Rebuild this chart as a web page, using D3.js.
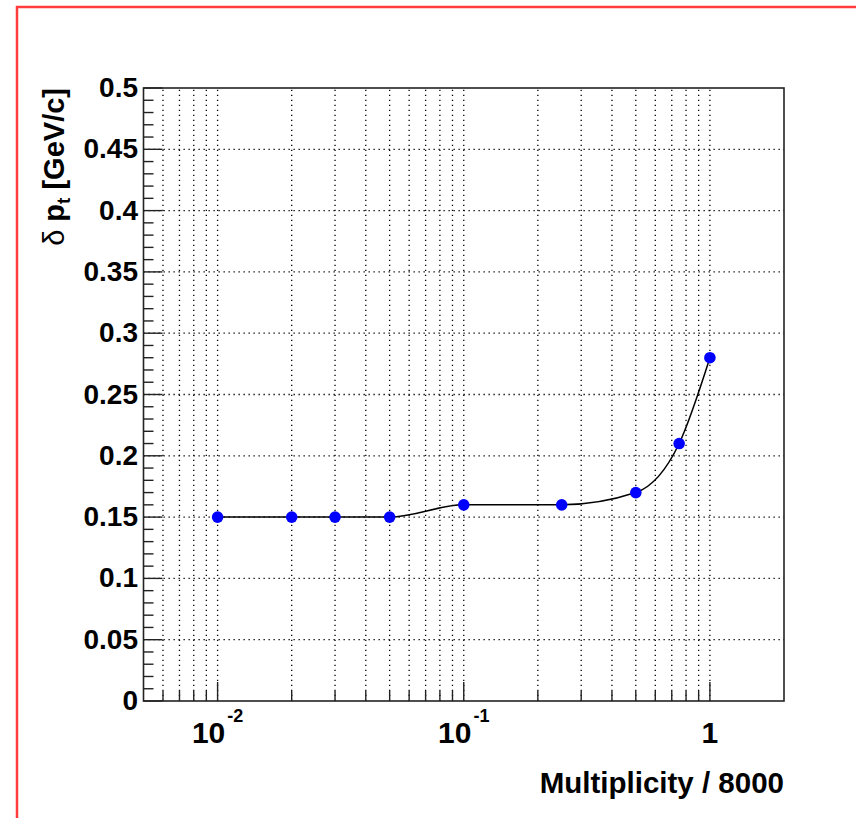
<!DOCTYPE html>
<html>
<head>
<meta charset="utf-8">
<script src="https://cdn.jsdelivr.net/npm/d3@7"></script>
<style>
  html, body { margin: 0; padding: 0; background: #fff; }
  svg { display: block; font-family: "Liberation Sans", Arial, Helvetica, sans-serif; }
</style>
</head>
<body>
<div id="chart"></div>
<script>
// Points
const multiplicity = [0.01, 0.02, 0.03, 0.05, 0.1, 0.25, 0.5, 0.75, 1];
const deltaPt = [0.15, 0.15, 0.15, 0.15, 0.16, 0.16, 0.17, 0.21, 0.28];

// Axis ticks
const xMajorTicks = [0.01, 0.1, 1];
const xMajorLabels = [["10", "-2"], ["10", "-1"], ["1", ""]];
const xMinorTicks = [0.006, 0.007, 0.008, 0.009,
  0.02, 0.03, 0.04, 0.05, 0.06, 0.07, 0.08, 0.09,
  0.2, 0.3, 0.4, 0.5, 0.6, 0.7, 0.8, 0.9];
const yMajorTicks = [0, 0.05, 0.1, 0.15, 0.2, 0.25, 0.3, 0.35, 0.4, 0.45, 0.5];
const yMajorLabels = ["0", "0.05", "0.1", "0.15", "0.2", "0.25", "0.3", "0.35", "0.4", "0.45", "0.5"];
const yMinorTicks = d3.range(0, 51).map((i) => i / 100);

const width = 856;
const height = 818;
const frame = { left: 143.5, right: 784, top: 88, bottom: 701 };

const svg = d3.select("#chart")
  .append("svg")
  .attr("width", width)
  .attr("height", height);

// pad border (only top/left edges visible in the picture)
svg.append("rect")
  .attr("x", 17)
  .attr("y", 7)
  .attr("width", width + 20)
  .attr("height", height + 20)
  .attr("fill", "none")
  .attr("stroke", "#ff3c3c")
  .attr("stroke-width", 2.5);

const x = d3.scaleLog()
  .domain([0.005, 2])
  .range([frame.left, frame.right]);

const y = d3.scaleLinear()
  .domain([0, 0.5])
  .range([frame.bottom, frame.top]);

// grid
const grid = svg.append("g")
  .attr("stroke", "#000")
  .attr("stroke-width", 1.3)
  .attr("stroke-dasharray", "1.3,3.7");

grid.selectAll("line.vx")
  .data(xMajorTicks.concat(xMinorTicks))
  .join("line")
  .attr("x1", (d) => x(d))
  .attr("x2", (d) => x(d))
  .attr("y1", frame.bottom)
  .attr("y2", frame.top);

grid.selectAll("line.hy")
  .data(yMajorTicks.filter((d) => d > 0 && d < 0.5))
  .join("line")
  .attr("class", "hy")
  .attr("x1", frame.left)
  .attr("x2", frame.right)
  .attr("y1", (d) => y(d))
  .attr("y2", (d) => y(d));

// ticks (drawn inside the frame)
const ticks = svg.append("g")
  .attr("stroke", "#222")
  .attr("stroke-width", 1.4);

ticks.selectAll("line.xt")
  .data(xMajorTicks.map((d) => [d, 19]).concat(xMinorTicks.map((d) => [d, 10])))
  .join("line")
  .attr("class", "xt")
  .attr("x1", (d) => x(d[0]))
  .attr("x2", (d) => x(d[0]))
  .attr("y1", frame.bottom)
  .attr("y2", (d) => frame.bottom - d[1]);

ticks.selectAll("line.yt")
  .data(yMinorTicks.map((d, i) => [d, i % 5 === 0 ? 19 : 10]))
  .join("line")
  .attr("class", "yt")
  .attr("x1", frame.left)
  .attr("x2", (d) => frame.left + d[1])
  .attr("y1", (d) => y(d[0]))
  .attr("y2", (d) => y(d[0]));

// frame
svg.append("rect")
  .attr("x", frame.left)
  .attr("y", frame.top)
  .attr("width", frame.right - frame.left)
  .attr("height", frame.bottom - frame.top)
  .attr("fill", "none")
  .attr("stroke", "#222")
  .attr("stroke-width", 1.6);

// y tick labels
svg.append("g")
  .selectAll("text")
  .data(yMajorTicks)
  .join("text")
  .attr("x", 138)
  .attr("y", (d) => y(d) + 9)
  .attr("text-anchor", "end")
  .attr("font-size", 28)
  .attr("font-weight", "bold")
  .text((d, i) => yMajorLabels[i]);

// x tick labels with exponent
const xLab = svg.append("g")
  .selectAll("text")
  .data(xMajorTicks)
  .join("text")
  .attr("x", (d) => x(d))
  .attr("y", 743)
  .attr("text-anchor", "middle")
  .attr("font-size", 30)
  .attr("font-weight", "bold");

xLab.append("tspan").text((d, i) => xMajorLabels[i][0]);
xLab.append("tspan")
  .attr("dx", 2)
  .attr("dy", -21)
  .attr("font-size", 18)
  .text((d, i) => xMajorLabels[i][1]);

// axis titles
svg.append("text")
  .attr("x", frame.right)
  .attr("y", 793)
  .attr("text-anchor", "end")
  .attr("font-size", 29.5)
  .attr("font-weight", "bold")
  .text("Multiplicity / 8000");

const yTitle = svg.append("text")
  .attr("transform", `translate(64,${frame.top}) rotate(-90)`)
  .attr("text-anchor", "end")
  .attr("font-size", 29)
  .attr("font-weight", "bold");

yTitle.append("tspan").attr("font-weight", "normal").text("δ ");
yTitle.append("tspan").text("p");
yTitle.append("tspan").attr("font-size", 19).attr("dy", 6).text("t");
yTitle.append("tspan").attr("dy", -6).text(" [GeV/c]");

// smooth curve + markers
const points = multiplicity.map((m, i) => [m, deltaPt[i]]);

svg.append("path")
  .datum(points)
  .attr("fill", "none")
  .attr("stroke", "#000")
  .attr("stroke-width", 1.5)
  .attr("d", d3.line()
    .x((d) => x(d[0]))
    .y((d) => y(d[1]))
    .curve(d3.curveMonotoneX));

svg.append("g")
  .selectAll("circle")
  .data(points)
  .join("circle")
  .attr("cx", (d) => x(d[0]))
  .attr("cy", (d) => y(d[1]))
  .attr("r", 5.8)
  .attr("fill", "#0000ff");
</script>
</body>
</html>
